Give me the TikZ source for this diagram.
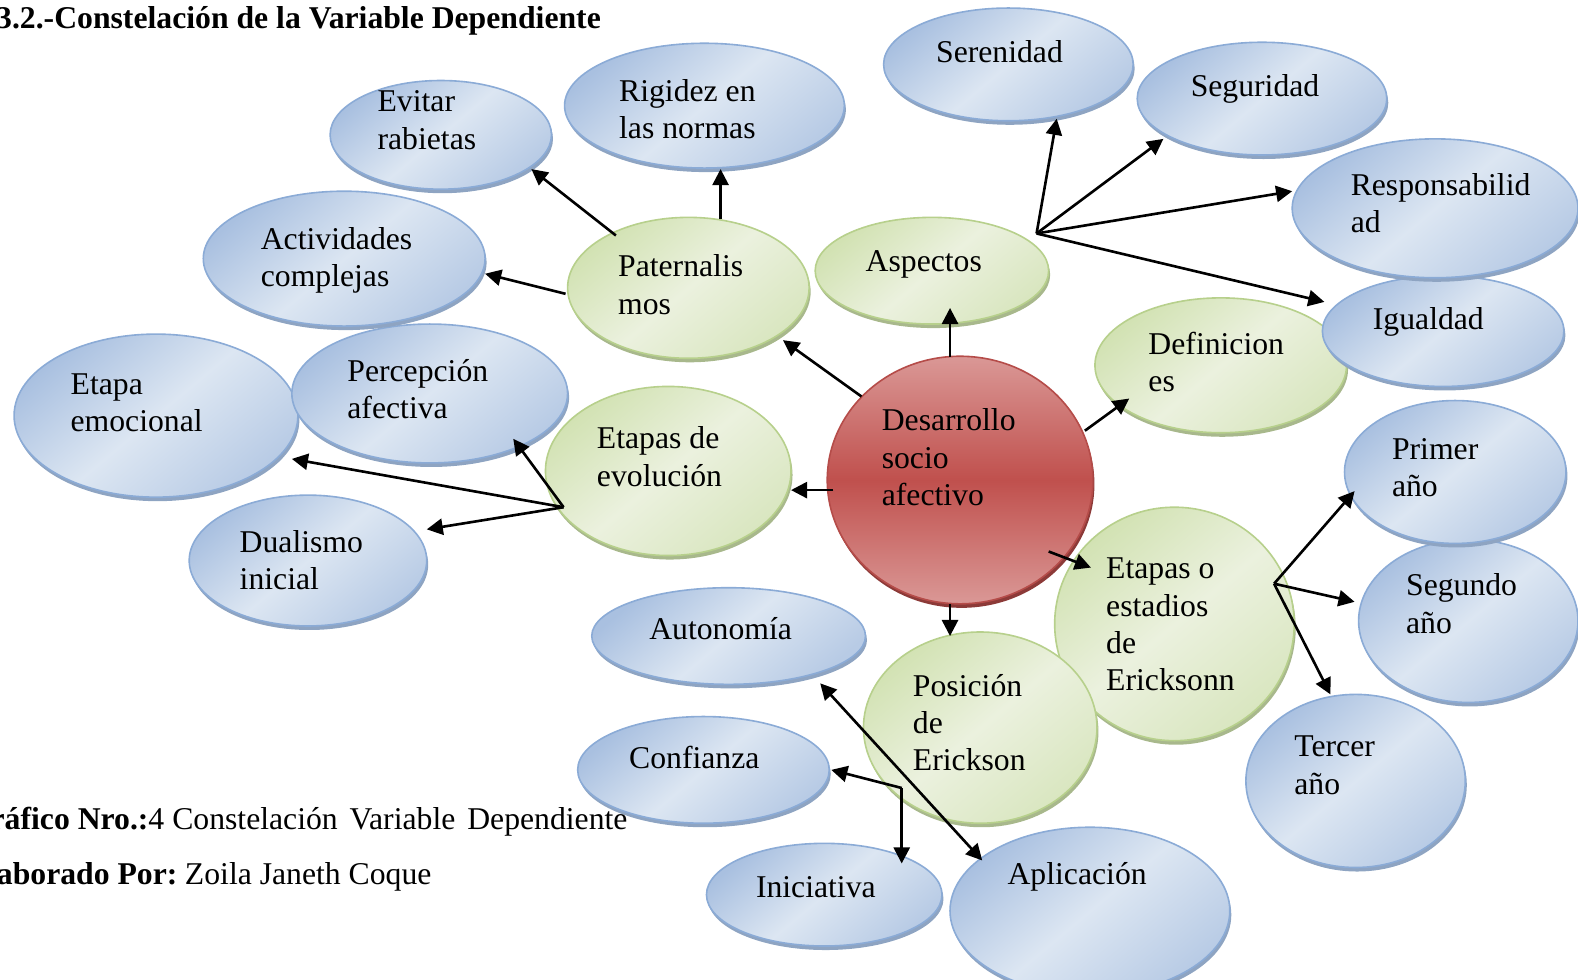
\documentclass[tikz,border=0pt]{standalone}
\usepackage{fontspec}
\setmainfont{Liberation Serif}
\usetikzlibrary{arrows.meta,shadows,shapes.geometric}
\definecolor{bE}{HTML}{8BABD6}
\definecolor{bD}{HTML}{A9C0E0}
\definecolor{bL}{HTML}{DCE6F2}
\definecolor{bD2}{HTML}{B8CBE5}
\definecolor{bS}{HTML}{8EA4C2}
\definecolor{gE}{HTML}{B7D08C}
\definecolor{gD}{HTML}{D2E2B3}
\definecolor{gL}{HTML}{EBF1DE}
\definecolor{gD2}{HTML}{D9E6C0}
\definecolor{gS}{HTML}{A8B88C}
\definecolor{rE}{HTML}{B54C49}
\definecolor{rL}{HTML}{DA9896}
\definecolor{rM}{HTML}{C0504D}
\definecolor{rS}{HTML}{8C3A38}
\newcommand\fs{\fontsize{31.5}{37}\selectfont}
\tikzset{
  sz/.style 2 args={minimum width=2*#1, minimum height=2*#2},
  bub/.style={ellipse, inner sep=0pt, outer sep=0pt, line width=1.6pt},
  bbub/.style={bub, draw=bE, top color=bD, bottom color=bD2, middle color=bL, shading angle=40,
     drop shadow={shadow xshift=1.5pt, shadow yshift=-4pt, fill=bS, opacity=1}},
  gbub/.style={bub, draw=gE, top color=gD, bottom color=gD2, middle color=gL, shading angle=40,
     drop shadow={shadow xshift=1.5pt, shadow yshift=-4pt, fill=gS, opacity=1}},
  rbub/.style={bub, draw=rE, top color=rL, bottom color=rL, middle color=rM,
     drop shadow={shadow xshift=1.5pt, shadow yshift=-4pt, fill=rS, opacity=1}},
  txt/.style={align=left, anchor=north west, inner sep=0pt, font=\fs},
  arr/.style={draw=black, line width=2.6pt, -{Triangle[length=16pt,width=16pt]}},
  arrb/.style={draw=black, line width=2.6pt, {Triangle[length=16pt,width=16pt]}-{Triangle[length=16pt,width=16pt]}},
}
\begin{document}
\begin{tikzpicture}[x=1pt,y=-1pt]
\useasboundingbox (0,0) rectangle (1568,973);
\clip (0,0) rectangle (1568,973);
% green / red ellipses
\node[gbub, sz={119}{116}] (eer) at (1167,620) {};
\node[gbub, sz={116}{95}] (pos) at (974,723) {};
\node[rbub, sz={132}{123}] (dsa) at (954,477) {};
\node[gbub, sz={122}{84}] (eev) at (664,468) {};
\node[gbub, sz={120}{70}] (pat) at (684,286) {};
\node[gbub, sz={116}{53}] (asp) at (926,269) {};
\node[gbub, sz={125}{67}] (def) at (1213,363) {};
% blue ellipses
\node[bbub, sz={141}{81}] (eem) at (155,413) {};
\node[bbub, sz={137}{69}] (per) at (427,391) {};
\node[bbub, sz={140}{67}] (act) at (342,257) {};
\node[bbub, sz={110}{54}] (evi) at (438,134) {};
\node[bbub, sz={139}{62}] (rig) at (700,105) {};
\node[bbub, sz={124}{56}] (ser) at (1002,64) {};
\node[bbub, sz={124}{56}] (seg) at (1254,98) {};
\node[bbub, sz={120}{55}] (igu) at (1434,329) {};
\node[bbub, sz={142}{69}] (res) at (1426,207) {};
\node[bbub, sz={109}{81}] (sgd) at (1459,617) {};
\node[bbub, sz={110}{71}] (pri) at (1446,469) {};
\node[bbub, sz={109}{86}] (ter) at (1347,776) {};
\node[bbub, sz={118}{65}] (dua) at (306,557) {};
\node[bbub, sz={136}{48}] (aut) at (724,632) {};
\node[bbub, sz={125}{53}] (con) at (699,765) {};
\node[bbub, sz={117}{51}] (ini) at (819,889) {};
\node[bbub, sz={139}{83}] (apl) at (1083,905) {};
% texts
\node[txt] (evi-t) at (375,100-15) {\strut Evitar\\\strut rabietas};
\node[txt] (rig-t) at (615,90-15) {\strut Rigidez en\\\strut las normas};
\node[txt] (ser-t) at (930,51-15) {\strut Serenidad};
\node[txt] (seg-t) at (1183,85-15) {\strut Seguridad};
\node[txt] (res-t) at (1342,183-15) {\strut Responsabilid\\\strut ad};
\node[txt] (igu-t) at (1364,316-15) {\strut Igualdad};
\node[txt] (act-t) at (259,237-15) {\strut Actividades\\\strut complejas};
\node[txt] (pat-t) at (614,264-15) {\strut Paternalis\\\strut mos};
\node[txt] (asp-t) at (860,259-15) {\strut Aspectos};
\node[txt] (def-t) at (1141,341-15) {\strut Definicion\\\strut es};
\node[txt] (eem-t) at (70,381-15) {\strut Etapa\\\strut emocional};
\node[txt] (per-t) at (345,368-15) {\strut Percepción\\\strut afectiva};
\node[txt] (eev-t) at (593,435-15) {\strut Etapas de\\\strut evolución};
\node[txt] (dsa-t) at (876,417-15) {\strut Desarrollo\\\strut socio\\\strut afectivo};
\node[txt] (dua-t) at (238,538-15) {\strut Dualismo\\\strut inicial};
\node[txt] (pri-t) at (1383,445-15) {\strut Primer\\\strut año};
\node[txt] (sgd-t) at (1397,581-15) {\strut Segundo\\\strut año};
\node[txt] (eer-t) at (1099,564-15) {\strut Etapas o\\\strut estadios\\\strut de\\\strut Ericksonn};
\node[txt] (aut-t) at (645,624-15) {\strut Autonomía};
\node[txt] (pos-t) at (907,681-15) {\strut Posición\\\strut de\\\strut Erickson};
\node[txt] (ter-t) at (1286,741-15) {\strut Tercer\\\strut año};
\node[txt] (con-t) at (625,753-15) {\strut Confianza};
\node[txt] (ini-t) at (751,881-15) {\strut Iniciativa};
\node[txt] (apl-t) at (1001,868-15) {\strut Aplicación};
% title and captions
\node[anchor=base west, inner sep=0pt, font=\fs\bfseries] (title) at (-4,28) {3.2.-Constelación de la Variable Dependiente};
\node[anchor=base west, inner sep=0pt, font=\fs] (cap1) at (-34,824) {\textbf{Gráfico Nro.:}4 Constelación\hspace{4pt} Variable\hspace{4pt} Dependiente};
\node[anchor=base west, inner sep=0pt, font=\fs] (cap2) at (-33,879) {\textbf{Elaborado Por:}\hspace{-3pt} Zoila Janeth Coque};
% junctions
\coordinate (aspj) at ([shift={(104,-37)}]asp.center);
\coordinate (eevj) at ([shift={(-104,36)}]eev.center);
\coordinate (eerj) at ([shift={(99,-40)}]eer.center);
\coordinate (posj) at ([shift={(-78,60)}]pos.center);
% arrows from center
\draw[arr] ([shift={(-98,-83)}]dsa.center) -- ([shift={(94,52)}]pat.center);
\draw[arr] ([shift={(-10,-122)}]dsa.center) -- ([shift={(18,37)}]asp.center);
\draw[arr] ([shift={(124,-49)}]dsa.center) -- ([shift={(-91,33)}]def.center);
\draw[arr] ([shift={(-126,10)}]dsa.center) -- ([shift={(122,19)}]eev.center);
\draw[arr] ([shift={(88,71)}]dsa.center) -- ([shift={(-83,-56)}]eer.center);
\draw[arr] ([shift={(-10,123)}]dsa.center) -- ([shift={(-30,-91)}]pos.center);
% paternalismos
\draw[arr] ([shift={(-72,-52)}]pat.center) -- ([shift={(90,34)}]evi.center);
\draw[arr] ([shift={(32,-68)}]pat.center) -- ([shift={(16,63)}]rig.center);
\draw[arr] ([shift={(-122,6)}]pat.center) -- ([shift={(140,15)}]act.center);
% aspectos
\draw[arr] (aspj) -- ([shift={(48,54)}]ser.center);
\draw[arr] (aspj) -- ([shift={(-98,40)}]seg.center);
\draw[arr] (aspj) -- ([shift={(-142,-17)}]res.center);
\draw[arr] (aspj) -- ([shift={(-118,-29)}]igu.center);
% etapas de evolucion
\draw[arr] (eevj) -- ([shift={(83,45)}]per.center);
\draw[arr] (eevj) -- ([shift={(135,43)}]eem.center);
\draw[arr] (eevj) -- ([shift={(118,-31)}]dua.center);
% etapas o estadios
\draw[arr] (eerj) -- ([shift={(-100,19)}]pri.center);
\draw[arr] (eerj) -- ([shift={(-113,-19)}]sgd.center);
\draw[arr] (eerj) -- ([shift={(-25,-86)}]ter.center);
% posicion
\draw[arr] (posj) -- ([shift={(127,0)}]con.center);
\draw[arr] (posj) -- ([shift={(77,-31)}]ini.center);
\draw[arrb] ([shift={(91,47)}]aut.center) -- ([shift={(-107,-50)}]apl.center);
\end{tikzpicture}
\end{document}
